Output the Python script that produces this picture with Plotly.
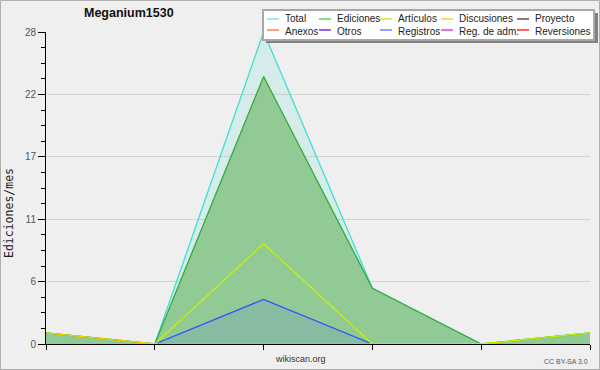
import plotly.graph_objects as go

# ---- data ----
months = [0, 1, 2, 3, 4, 5]
total = [1, 0, 28, 5, 0, 1]
ediciones = [1, 0, 24, 5, 0, 1]
articulos = [0, 0, 9, 0, 0, 1]
discusiones = [1, 0, 0, 0, 0, 0]
proyecto = [0, 0, 0, 0, 0, 0]
anexos = [0, 0, 0, 0, 0, 0]
otros = [0, 0, 0, 0, 0, 0]
registros = [0, 0, 4, 0, 0, 0]
reg_adm = [0, 0, 0, 0, 0, 0]
reversiones = [0, 0, 0, 0, 0, 0]

y_tickvals = [0, 5.6, 11.2, 16.8, 22.4, 28]
y_ticktext = ["0", "6", "11", "17", "22", "28"]

legend_names = ["Total", "Ediciones", "Artículos", "Discusiones", "Proyecto",
                "Anexos", "Otros", "Registros", "Reg. de adm.", "Reversiones"]
legend_colors = ["#80e6e0", "#66c866", "#c8ee30", "#ffcc33", "#555555",
                 "#ff8040", "#8030e0", "#7080ff", "#e040e0", "#ff3030"]

W, H = 600, 370
L, R, T, B = 46, 10, 32, 26


def px_x(px):
    return (px - L) / (W - L - R)


def px_y(py):
    return (H - B - py) / (H - T - B)


fig = go.Figure()

# filled series
fig.add_trace(go.Scatter(x=months, y=total, name="Total", mode="lines",
                         line=dict(color="#40e0d0", width=1.3),
                         fill="tozeroy", fillcolor="rgba(64,224,208,0.15)"))
fig.add_trace(go.Scatter(x=months, y=ediciones, name="Ediciones", mode="lines",
                         line=dict(color="#35aa3a", width=1.3),
                         fill="tozeroy", fillcolor="rgb(146,202,150)"))
fig.add_trace(go.Scatter(x=months, y=registros, name="Registros", mode="lines",
                         line=dict(color="#3050ff", width=1.3),
                         fill="tozeroy", fillcolor="rgba(60,80,255,0.12)"))
# line-only series
for name, vals, col in [("Proyecto", proyecto, "#555555"),
                        ("Anexos", anexos, "#ff8040"),
                        ("Otros", otros, "#8030e0"),
                        ("Reg. de adm.", reg_adm, "#e040e0"),
                        ("Reversiones", reversiones, "#ff3030"),
                        ("Discusiones", discusiones, "#ffcc00"),
                        ("Artículos", articulos, "#c8f000")]:
    fig.add_trace(go.Scatter(x=months, y=vals, name=name, mode="lines",
                             line=dict(color=col, width=1.3)))

fig.update_traces(showlegend=False, hoverinfo="skip")

shapes = []
annotations = []

# outer border
shapes.append(dict(type="rect", xref="paper", yref="paper",
                   x0=px_x(0.5), x1=px_x(W - 0.5), y0=px_y(H - 0.5), y1=px_y(0.5),
                   line=dict(color="#b0b0b0", width=1), layer="below"))

# legend box with shadow
shapes.append(dict(type="rect", xref="paper", yref="paper",
                   x0=px_x(266), x1=px_x(598), y0=px_y(43), y1=px_y(13),
                   fillcolor="#808080", line=dict(width=0), layer="above"))
shapes.append(dict(type="rect", xref="paper", yref="paper",
                   x0=px_x(263), x1=px_x(594), y0=px_y(40), y1=px_y(10),
                   fillcolor="#ffffff", line=dict(color="#a8a8a8", width=2), layer="above"))

col_x = [267, 319, 380, 441, 517]
row_split = 24.5
for i, (nm, col) in enumerate(zip(legend_names, legend_colors)):
    cx = col_x[i % 5]
    top_row = i < 5
    cy = 19 if top_row else 30
    shapes.append(dict(type="line", xref="paper", yref="paper",
                       x0=px_x(cx), x1=px_x(cx + 12), y0=px_y(cy), y1=px_y(cy),
                       line=dict(color=col, width=1.5), layer="above"))
    annotations.append(dict(text=nm, xref="paper", yref="paper",
                            x=px_x(cx + 17), y=px_y(row_split),
                            xanchor="left", yanchor="bottom" if top_row else "top",
                            showarrow=False, borderpad=0,
                            font=dict(family="Liberation Sans", size=10, color="#222222")))

# title
annotations.append(dict(text="<b>Meganium1530</b>", xref="paper", yref="paper",
                        x=px_x(129), y=px_y(13), xanchor="center", yanchor="middle",
                        showarrow=False,
                        font=dict(family="Liberation Sans", size=12.5, color="#111111")))
# y title
annotations.append(dict(text="Ediciones/mes", xref="paper", yref="paper",
                        x=px_x(9), y=px_y(213), xanchor="center", yanchor="middle",
                        textangle=-90, showarrow=False,
                        font=dict(family="DejaVu Sans Mono", size=11.5, color="#222222")))
# x footer
annotations.append(dict(text="wikiscan.org", xref="paper", yref="paper",
                        x=px_x(300), y=px_y(359), xanchor="center", yanchor="middle",
                        showarrow=False,
                        font=dict(family="Liberation Sans", size=9, color="#333333")))
annotations.append(dict(text="CC BY-SA 3.0", xref="paper", yref="paper",
                        x=px_x(590), y=px_y(361), xanchor="right", yanchor="middle",
                        showarrow=False,
                        font=dict(family="Liberation Sans", size=7, color="#555555")))

fig.update_layout(
    width=W, height=H,
    margin=dict(l=L, r=R, t=T, b=B),
    paper_bgcolor="#efeff0",
    plot_bgcolor="#efeff0",
    showlegend=False,
    shapes=shapes,
    annotations=annotations,
    xaxis=dict(range=[0, 5], tickvals=months, showticklabels=False,
               showgrid=False, zeroline=False, showline=True, linecolor="black",
               linewidth=1, ticks="outside", ticklen=5, tickcolor="black",
               layer="above traces", fixedrange=True),
    yaxis=dict(range=[0, 28], tickvals=y_tickvals, ticktext=y_ticktext,
               showgrid=True, gridcolor="rgba(0,0,0,0.11)", gridwidth=1,
               zeroline=False, showline=True, linecolor="black", linewidth=1,
               ticks="outside", ticklen=7, tickcolor="black",
               tickfont=dict(family="Liberation Sans", size=10, color="#555555"),
               minor=dict(dtick=1.4, tick0=0, ticks="outside", ticklen=4,
                          tickcolor="black", showgrid=False),
               layer="above traces", fixedrange=True),
)

fig.write_html("out.html")
